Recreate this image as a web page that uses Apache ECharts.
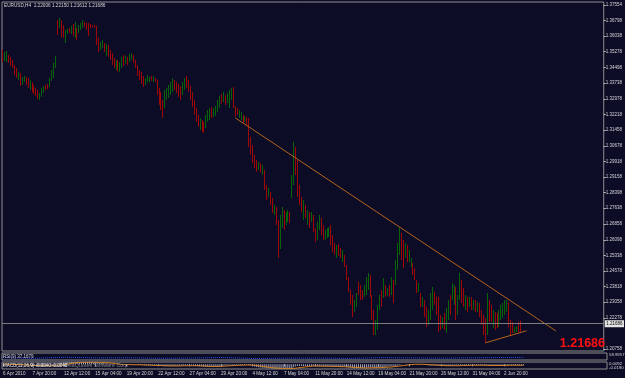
<!DOCTYPE html>
<html>
<head>
<meta charset="utf-8">
<script src="https://cdn.jsdelivr.net/npm/echarts@6/dist/echarts.min.js"></script>
<style>
html,body{margin:0;padding:0;background:#0c0c27;}
#chart{width:625px;height:378px;}
</style>
</head>
<body>
<div id="chart"></div>
<script>
// ---- EURUSD H4 bars (price) ----
const opens = [
1.3531,1.3487,1.3497,1.3507,1.3497,1.3482,1.3458,1.3443,1.3395,1.3419,
1.3370,1.3395,1.3399,1.3390,1.3346,1.3375,1.3360,1.3346,1.3336,1.3297,
1.3312,1.3336,1.3360,1.3365,1.3360,1.3390,1.3404,1.3453,1.3677,1.3648,
1.3677,1.3653,1.3575,1.3619,1.3639,1.3619,1.3658,1.3599,1.3639,1.3624,
1.3639,1.3648,1.3668,1.3663,1.3663,1.3658,1.3658,1.3653,1.3648,1.3580,
1.3541,1.3556,1.3565,1.3512,1.3556,1.3531,1.3517,1.3492,1.3443,1.3482,
1.3434,1.3453,1.3507,1.3468,1.3497,1.3477,1.3492,1.3507,1.3482,1.3458,
1.3434,1.3424,1.3404,1.3365,1.3385,1.3385,1.3404,1.3385,1.3395,1.3385,
1.3346,1.3326,1.3282,1.3258,1.3297,1.3307,1.3321,1.3336,1.3385,1.3375,
1.3365,1.3355,1.3321,1.3346,1.3404,1.3385,1.3355,1.3326,1.3282,1.3243,
1.3214,1.3150,1.3190,1.3180,1.3160,1.3190,1.3204,1.3253,1.3214,1.3224,
1.3238,1.3258,1.3316,1.3287,1.3312,1.3282,1.3263,1.3297,1.3351,1.3258,
1.3248,1.3214,1.3204,1.3214,1.3190,1.3204,1.3199,1.3102,1.3063,1.3014,
1.2994,1.2950,1.2985,1.2936,1.2946,1.2872,1.2819,1.2838,1.2809,1.2736,
1.2770,1.2701,1.2570,1.2682,1.2750,1.2682,1.2711,1.2741,1.2814,1.2877,
1.3058,1.2990,1.2858,1.2814,1.2716,1.2775,1.2692,1.2741,1.2706,1.2726,
1.2662,1.2614,1.2667,1.2711,1.2667,1.2614,1.2628,1.2633,1.2672,1.2623,
1.2584,1.2531,1.2584,1.2560,1.2511,1.2531,1.2482,1.2423,1.2360,1.2331,
1.2262,1.2301,1.2394,1.2379,1.2355,1.2331,1.2350,1.2375,1.2428,1.2336,
1.2257,1.2160,1.2194,1.2277,1.2355,1.2331,1.2384,1.2340,1.2379,1.2345,
1.2409,1.2394,1.2467,1.2560,1.2638,1.2604,1.2531,1.2580,1.2506,1.2487,
1.2492,1.2467,1.2409,1.2360,1.2345,1.2292,1.2311,1.2277,1.2199,1.2228,
1.2287,1.2355,1.2326,1.2326,1.2238,1.2184,1.2248,1.2170,1.2233,1.2331,
1.2326,1.2306,1.2375,1.2253,1.2316,1.2409,1.2365,1.2282,1.2326,1.2282,
1.2326,1.2272,1.2311,1.2267,1.2296,1.2262,1.2238,1.2218,1.2150,1.2311,
1.2287,1.2194,1.2253,1.2248,1.2194,1.2228,1.2238,1.2253,1.2277,1.2301,
1.2209,1.2204,1.2160,1.2165,1.2199,1.22006];
const closes = [
1.3487,1.3517,1.3521,1.3482,1.3463,1.3453,1.3419,1.3404,1.3424,1.3365,
1.3399,1.3404,1.3370,1.3355,1.3380,1.3336,1.3326,1.3316,1.3302,1.3321,
1.3346,1.3355,1.3346,1.3351,1.3395,1.3429,1.3463,1.3502,1.3619,1.3682,
1.3604,1.3604,1.3624,1.3634,1.3624,1.3648,1.3609,1.3663,1.3590,1.3653,
1.3663,1.3677,1.3653,1.3639,1.3609,1.3648,1.3653,1.3648,1.3565,1.3531,
1.3570,1.3580,1.3531,1.3560,1.3507,1.3492,1.3468,1.3453,1.3482,1.3434,
1.3473,1.3497,1.3463,1.3502,1.3468,1.3512,1.3517,1.3477,1.3453,1.3414,
1.3395,1.3375,1.3360,1.3395,1.3409,1.3399,1.3390,1.3404,1.3385,1.3321,
1.3273,1.3253,1.3209,1.3331,1.3346,1.3355,1.3370,1.3390,1.3346,1.3336,
1.3312,1.3297,1.3370,1.3390,1.3360,1.3336,1.3297,1.3263,1.3224,1.3190,
1.3165,1.3194,1.3141,1.3136,1.3209,1.3238,1.3248,1.3209,1.3248,1.3258,
1.3287,1.3302,1.3282,1.3326,1.3273,1.3321,1.3336,1.3346,1.3258,1.3214,
1.3224,1.3238,1.3229,1.3190,1.3209,1.3175,1.3072,1.3034,1.2994,1.2970,
1.2946,1.2985,1.2941,1.2970,1.2863,1.2809,1.2853,1.2785,1.2745,1.2770,
1.2692,1.2560,1.2716,1.2760,1.2672,1.2736,1.2750,1.2706,1.2911,1.3048,
1.2941,1.2838,1.2789,1.2760,1.2789,1.2726,1.2741,1.2677,1.2736,1.2658,
1.2609,1.2682,1.2721,1.2643,1.2614,1.2648,1.2662,1.2667,1.2594,1.2560,
1.2541,1.2570,1.2541,1.2526,1.2550,1.2487,1.2423,1.2370,1.2301,1.2243,
1.2306,1.2340,1.2350,1.2326,1.2326,1.2379,1.2414,1.2438,1.2340,1.2233,
1.2165,1.2209,1.2282,1.2331,1.2292,1.2409,1.2340,1.2370,1.2336,1.2418,
1.2316,1.2501,1.2584,1.2662,1.2531,1.2487,1.2584,1.2511,1.2550,1.2516,
1.2448,1.2423,1.2360,1.2394,1.2292,1.2326,1.2243,1.2194,1.2257,1.2340,
1.2370,1.2301,1.2253,1.2170,1.2184,1.2228,1.2175,1.2267,1.2306,1.2253,
1.2389,1.2379,1.2233,1.2331,1.2438,1.2311,1.2292,1.2331,1.2262,1.2321,
1.2272,1.2306,1.2262,1.2301,1.2243,1.2204,1.2160,1.2121,1.2326,1.2218,
1.2218,1.2262,1.2179,1.2189,1.2257,1.2287,1.2296,1.2306,1.2311,1.2194,
1.2160,1.2165,1.2179,1.2184,1.2170,1.21686];
const lows = [
1.3477,1.3482,1.3477,1.3473,1.3458,1.3448,1.3414,1.3399,1.3390,1.3360,
1.3365,1.3380,1.3365,1.3351,1.3341,1.3331,1.3321,1.3312,1.3297,1.3292,
1.3307,1.3326,1.3341,1.3346,1.3355,1.3385,1.3399,1.3448,1.3609,1.3643,
1.3599,1.3595,1.3570,1.3614,1.3619,1.3614,1.3604,1.3595,1.3585,1.3619,
1.3634,1.3643,1.3648,1.3634,1.3604,1.3643,1.3648,1.3643,1.3560,1.3526,
1.3536,1.3546,1.3526,1.3507,1.3502,1.3487,1.3463,1.3448,1.3438,1.3429,
1.3429,1.3448,1.3458,1.3468,1.3463,1.3477,1.3487,1.3473,1.3448,1.3409,
1.3390,1.3370,1.3355,1.3365,1.3380,1.3380,1.3385,1.3380,1.3380,1.3316,
1.3268,1.3243,1.3204,1.3253,1.3292,1.3302,1.3316,1.3331,1.3341,1.3326,
1.3307,1.3292,1.3316,1.3341,1.3351,1.3331,1.3292,1.3258,1.3219,1.3185,
1.3160,1.3146,1.3136,1.3131,1.3155,1.3185,1.3194,1.3204,1.3209,1.3214,
1.3233,1.3253,1.3273,1.3282,1.3268,1.3277,1.3253,1.3292,1.3253,1.3209,
1.3219,1.3204,1.3194,1.3180,1.3185,1.3170,1.3063,1.3024,1.2985,1.2960,
1.2941,1.2950,1.2936,1.2926,1.2853,1.2804,1.2819,1.2780,1.2741,1.2731,
1.2682,1.2521,1.2565,1.2667,1.2658,1.2682,1.2697,1.2692,1.2814,1.2877,
1.2926,1.2819,1.2780,1.2745,1.2706,1.2716,1.2682,1.2667,1.2697,1.2648,
1.2599,1.2609,1.2658,1.2633,1.2609,1.2609,1.2619,1.2623,1.2584,1.2550,
1.2536,1.2521,1.2531,1.2521,1.2501,1.2477,1.2414,1.2355,1.2292,1.2233,
1.2257,1.2282,1.2340,1.2316,1.2316,1.2331,1.2340,1.2365,1.2331,1.2218,
1.2145,1.2145,1.2170,1.2267,1.2282,1.2326,1.2331,1.2336,1.2331,1.2340,
1.2301,1.2389,1.2462,1.2536,1.2511,1.2472,1.2521,1.2501,1.2501,1.2477,
1.2438,1.2414,1.2350,1.2355,1.2282,1.2282,1.2233,1.2184,1.2194,1.2218,
1.2267,1.2292,1.2243,1.2160,1.2170,1.2179,1.2170,1.2155,1.2218,1.2243,
1.2316,1.2292,1.2218,1.2243,1.2316,1.2301,1.2282,1.2267,1.2257,1.2282,
1.2267,1.2267,1.2257,1.2257,1.2233,1.2194,1.2145,1.2106,1.2145,1.2209,
1.2209,1.2179,1.2170,1.2179,1.2184,1.2218,1.2228,1.2243,1.2257,1.2184,
1.2145,1.2155,1.2155,1.2160,1.2160,1.21612];
const highs = [
1.3536,1.3526,1.3531,1.3512,1.3502,1.3487,1.3463,1.3448,1.3429,1.3424,
1.3404,1.3409,1.3404,1.3399,1.3390,1.3380,1.3365,1.3351,1.3341,1.3326,
1.3351,1.3360,1.3365,1.3370,1.3399,1.3438,1.3473,1.3507,1.3682,1.3692,
1.3682,1.3658,1.3634,1.3639,1.3643,1.3653,1.3663,1.3673,1.3643,1.3658,
1.3668,1.3682,1.3673,1.3668,1.3668,1.3663,1.3658,1.3658,1.3653,1.3595,
1.3575,1.3585,1.3570,1.3565,1.3560,1.3536,1.3521,1.3497,1.3487,1.3487,
1.3477,1.3502,1.3512,1.3507,1.3502,1.3517,1.3521,1.3512,1.3487,1.3463,
1.3438,1.3429,1.3409,1.3399,1.3414,1.3404,1.3409,1.3409,1.3399,1.3390,
1.3351,1.3331,1.3292,1.3341,1.3351,1.3365,1.3380,1.3399,1.3390,1.3380,
1.3370,1.3360,1.3380,1.3399,1.3409,1.3390,1.3360,1.3331,1.3292,1.3253,
1.3219,1.3204,1.3194,1.3185,1.3219,1.3243,1.3253,1.3258,1.3253,1.3263,
1.3292,1.3312,1.3321,1.3331,1.3316,1.3326,1.3341,1.3351,1.3355,1.3263,
1.3253,1.3243,1.3233,1.3219,1.3214,1.3209,1.3204,1.3112,1.3072,1.3024,
1.2999,1.2990,1.2985,1.2975,1.2950,1.2877,1.2863,1.2843,1.2814,1.2780,
1.2770,1.2706,1.2731,1.2770,1.2755,1.2745,1.2755,1.2745,1.2926,1.3087,
1.3063,1.2999,1.2877,1.2819,1.2804,1.2780,1.2755,1.2745,1.2745,1.2731,
1.2667,1.2697,1.2731,1.2716,1.2682,1.2658,1.2667,1.2672,1.2682,1.2633,
1.2594,1.2584,1.2589,1.2570,1.2560,1.2536,1.2487,1.2428,1.2365,1.2340,
1.2316,1.2350,1.2404,1.2389,1.2365,1.2389,1.2428,1.2448,1.2438,1.2340,
1.2267,1.2218,1.2292,1.2340,1.2365,1.2423,1.2389,1.2375,1.2389,1.2428,
1.2414,1.2511,1.2594,1.2672,1.2643,1.2609,1.2594,1.2584,1.2560,1.2521,
1.2496,1.2472,1.2414,1.2399,1.2350,1.2331,1.2316,1.2282,1.2267,1.2350,
1.2379,1.2355,1.2331,1.2331,1.2243,1.2233,1.2253,1.2277,1.2316,1.2340,
1.2399,1.2389,1.2379,1.2340,1.2448,1.2414,1.2375,1.2340,1.2331,1.2331,
1.2331,1.2316,1.2316,1.2306,1.2301,1.2267,1.2243,1.2228,1.2350,1.2316,
1.2292,1.2267,1.2257,1.2253,1.2267,1.2292,1.2301,1.2316,1.2316,1.2306,
1.2218,1.2209,1.2184,1.2189,1.2209,1.22150];

// ---- MACD(12,26,9) main (histogram) and signal ----
const macdMain = [
0.001,0,0,-0.001,-0.001,-0.002,-0.002,-0.003,-0.003,-0.004,
-0.004,-0.004,-0.005,-0.005,-0.005,-0.006,-0.006,-0.006,-0.007,-0.007,
-0.007,-0.006,-0.006,-0.006,-0.005,-0.005,-0.004,-0.003,0.002,0.005,
0.006,0.007,0.007,0.008,0.008,0.009,0.009,0.009,0.009,0.009,
0.009,0.009,0.009,0.009,0.009,0.009,0.009,0.009,0.008,0.006,
0.005,0.005,0.004,0.004,0.003,0.002,0.001,0,-0.001,-0.002,
-0.002,-0.002,-0.002,-0.002,-0.002,-0.002,-0.002,-0.002,-0.002,-0.003,
-0.003,-0.004,-0.004,-0.004,-0.005,-0.005,-0.005,-0.005,-0.005,-0.005,
-0.006,-0.007,-0.008,-0.008,-0.008,-0.008,-0.007,-0.007,-0.006,-0.006,
-0.006,-0.006,-0.006,-0.005,-0.005,-0.005,-0.005,-0.006,-0.007,-0.008,
-0.009,-0.009,-0.010,-0.010,-0.010,-0.010,-0.009,-0.009,-0.009,-0.008,
-0.007,-0.006,-0.006,-0.005,-0.005,-0.004,-0.004,-0.003,-0.003,-0.003,
-0.003,-0.003,-0.003,-0.003,-0.003,-0.003,-0.005,-0.007,-0.009,-0.011,
-0.012,-0.013,-0.014,-0.014,-0.015,-0.016,-0.016,-0.017,-0.018,-0.018,
-0.018,-0.019,-0.019,-0.018,-0.018,-0.017,-0.017,-0.016,-0.012,-0.008,
-0.007,-0.007,-0.007,-0.007,-0.007,-0.007,-0.007,-0.008,-0.008,-0.008,
-0.009,-0.009,-0.008,-0.008,-0.009,-0.009,-0.009,-0.009,-0.009,-0.010,
-0.010,-0.011,-0.011,-0.011,-0.011,-0.012,-0.013,-0.014,-0.015,-0.016,
-0.016,-0.016,-0.015,-0.015,-0.015,-0.014,-0.013,-0.012,-0.012,-0.013,
-0.014,-0.014,-0.013,-0.012,-0.011,-0.010,-0.009,-0.008,-0.008,-0.007,
-0.007,-0.005,-0.003,-0.001,0,0.001,0.001,0.001,0.001,0.001,
0,0,-0.001,-0.001,-0.002,-0.003,-0.004,-0.005,-0.005,-0.005,
-0.005,-0.005,-0.005,-0.006,-0.006,-0.006,-0.007,-0.007,-0.006,-0.006,
-0.005,-0.004,-0.005,-0.005,-0.004,-0.004,-0.004,-0.004,-0.004,-0.004,
-0.004,-0.004,-0.004,-0.004,-0.004,-0.004,-0.005,-0.006,-0.005,-0.005,
-0.005,-0.005,-0.005,-0.005,-0.005,-0.004,-0.004,-0.004,-0.003,-0.003,
-0.004,-0.004,-0.004,-0.004,-0.004,-0.004];
const macdSignal = [
0.001,0.001,0.001,0,0,0,-0.001,-0.001,-0.001,-0.002,
-0.002,-0.003,-0.003,-0.004,-0.004,-0.004,-0.005,-0.005,-0.005,-0.006,
-0.006,-0.006,-0.006,-0.006,-0.006,-0.006,-0.006,-0.005,-0.005,-0.004,
-0.003,-0.002,-0.001,0,0.002,0.003,0.005,0.006,0.007,0.008,
0.008,0.009,0.009,0.009,0.009,0.009,0.009,0.009,0.009,0.009,
0.008,0.008,0.007,0.006,0.006,0.005,0.004,0.003,0.002,0.001,
0,0,-0.001,-0.001,-0.001,-0.002,-0.002,-0.002,-0.002,-0.002,
-0.002,-0.003,-0.003,-0.003,-0.003,-0.004,-0.004,-0.004,-0.005,-0.005,
-0.005,-0.005,-0.006,-0.006,-0.006,-0.007,-0.007,-0.007,-0.007,-0.007,
-0.007,-0.007,-0.006,-0.006,-0.006,-0.006,-0.006,-0.006,-0.006,-0.006,
-0.006,-0.007,-0.007,-0.008,-0.008,-0.009,-0.009,-0.009,-0.009,-0.009,
-0.009,-0.009,-0.008,-0.008,-0.007,-0.007,-0.006,-0.006,-0.005,-0.005,
-0.004,-0.004,-0.004,-0.003,-0.003,-0.003,-0.003,-0.004,-0.004,-0.005,
-0.006,-0.007,-0.008,-0.009,-0.011,-0.012,-0.013,-0.014,-0.015,-0.016,
-0.016,-0.017,-0.017,-0.018,-0.018,-0.018,-0.018,-0.018,-0.017,-0.016,
-0.015,-0.014,-0.013,-0.012,-0.011,-0.010,-0.009,-0.008,-0.007,-0.007,
-0.007,-0.008,-0.008,-0.008,-0.008,-0.008,-0.008,-0.009,-0.009,-0.009,
-0.009,-0.009,-0.010,-0.010,-0.010,-0.011,-0.011,-0.011,-0.012,-0.013,
-0.013,-0.014,-0.014,-0.015,-0.015,-0.015,-0.015,-0.014,-0.014,-0.014,
-0.014,-0.014,-0.014,-0.013,-0.013,-0.013,-0.012,-0.012,-0.011,-0.010,
-0.009,-0.008,-0.007,-0.006,-0.005,-0.004,-0.003,-0.002,-0.001,0,
0,0.001,0,0,0,-0.001,-0.001,-0.002,-0.002,-0.003,
-0.003,-0.004,-0.004,-0.005,-0.005,-0.005,-0.006,-0.006,-0.006,-0.006,
-0.006,-0.006,-0.006,-0.005,-0.005,-0.005,-0.005,-0.005,-0.004,-0.004,
-0.004,-0.004,-0.004,-0.004,-0.004,-0.004,-0.004,-0.004,-0.005,-0.005,
-0.005,-0.005,-0.005,-0.005,-0.005,-0.005,-0.005,-0.004,-0.004,-0.004,
-0.004,-0.004,-0.004,-0.004,-0.004,-0.004];

// ---- RSI(9), read at sparse bars ----
const rsiBars   = [0, 16, 32, 48, 64, 80, 96, 112, 128, 144, 160, 176, 192, 208, 224, 240, 256, 265];
const rsiValues = [34, 24, 40, 30, 32, 24, 28, 36, 20, 26, 28, 22, 34, 30, 27, 32, 36, 37.17];

// ---- drawn trend lines [barIndex, price] ----
const upperTrend = [[119, 1.3204], [283, 1.2165]];
const lowerTrend = [[247, 1.2107], [268, 1.2166]];

// ---- axis labels ----
const priceTicks = [1.37554,1.36798,1.36038,1.35278,1.34498,1.33738,1.32978,1.32218,1.31458,1.30678,
  1.29918,1.29158,1.28398,1.27638,1.26858,1.26098,1.25338,1.24578,1.23818,1.23058,1.22278,1.20758];
const timeLabels = ['6 Apr 2010','7 Apr 20:00','12 Apr 12:00','15 Apr 04:00','19 Apr 20:00','22 Apr 12:00',
  '27 Apr 04:00','29 Apr 20:00','4 May 12:00','7 May 04:00','11 May 20:00','14 May 12:00','19 May 04:00',
  '21 May 20:00','26 May 12:00','31 May 04:00','2 Jun 20:00'];
const timeLabelBars = [0,15,31,47,63,79,95,111,127,143,159,175,191,207,223,239,255];
const lastPrice = 1.21686;
const totalSlots = 308; // bar slots incl. right-hand chart shift

const categories = [];
for (let i = 0; i < totalSlots; i++) categories.push(i);
const labelMap = {};
timeLabelBars.forEach((b, k) => { labelMap[b] = timeLabels[k]; });
const candles = opens.map((o, i) => [o, closes[i], lows[i], highs[i]]);
const rsiPoints = rsiBars.map((b, k) => [b, rsiValues[k]]);

const FONT = '"Liberation Sans", Arial, sans-serif';
const UP = '#086408', DOWN = '#a00808';
const FRAME = '#8e8e8e';
const TXT = '#d6d6d6';

const hiddenX = (g) => ({
  gridIndex: g, type: 'category', data: categories, boundaryGap: true,
  axisLine: {show: false}, axisTick: {show: false}, axisLabel: {show: false}, splitLine: {show: false}
});

const chart = echarts.init(document.getElementById('chart'), null, {renderer: 'canvas'});
chart.setOption({
  backgroundColor: '#0c0c27',
  animation: false,
  grid: [
    {left: 2, top: 2, width: 605, height: 349, show: true, borderColor: FRAME, borderWidth: 1},
    {left: 2, top: 353, width: 605, height: 7, show: true, borderColor: FRAME, borderWidth: 1},
    {left: 2, top: 362, width: 605, height: 7, show: true, borderColor: FRAME, borderWidth: 1}
  ],
  xAxis: [
    hiddenX(0),
    hiddenX(1),
    {
      gridIndex: 2, type: 'category', data: categories, boundaryGap: true,
      axisLine: {show: false},
      axisTick: {show: true, length: 2, alignWithLabel: true,
        interval: (idx) => labelMap[idx] !== undefined, lineStyle: {color: '#bdbdbd', width: 1}},
      axisLabel: {show: true, interval: (idx) => labelMap[idx] !== undefined,
        formatter: (v, idx) => labelMap[idx] || '', align: 'left', margin: 2,
        fontSize: 4.6, color: TXT, fontFamily: FONT},
      splitLine: {show: false}
    }
  ],
  yAxis: [
    {
      gridIndex: 0, type: 'value', position: 'right', min: 1.2067, max: 1.3770,
      axisLine: {show: false},
      axisTick: {show: true, length: 2, customValues: priceTicks, lineStyle: {color: '#bdbdbd'}},
      axisLabel: {show: true, customValues: priceTicks, formatter: (v) => v.toFixed(5),
        fontSize: 4.5, color: TXT, margin: 2, fontFamily: FONT},
      splitLine: {show: false}
    },
    {gridIndex: 1, type: 'value', min: 0, max: 100, show: false},
    {gridIndex: 2, type: 'value', min: -0.0195, max: 0.0095, show: false}
  ],
  series: [
    {
      type: 'candlestick', xAxisIndex: 0, yAxisIndex: 0, data: candles, barWidth: 0.5,
      itemStyle: {color: UP, color0: DOWN, borderColor: UP, borderColor0: DOWN, borderWidth: 1},
      markLine: {
        silent: true, symbol: 'none', animation: false,
        lineStyle: {color: '#7d7d7d', type: 'solid', width: 1},
        label: {show: true, position: 'end', distance: 1, formatter: lastPrice.toFixed(5),
          backgroundColor: '#e4e4e4', color: '#000', fontSize: 4.5, padding: [1, 1.5], fontFamily: FONT},
        data: [{yAxis: lastPrice}]
      }
    },
    {type: 'line', xAxisIndex: 0, yAxisIndex: 0, data: upperTrend, symbol: 'none',
      lineStyle: {color: '#b5621b', width: 1}, z: 3},
    {type: 'line', xAxisIndex: 0, yAxisIndex: 0, data: lowerTrend, symbol: 'none',
      lineStyle: {color: '#b5621b', width: 1}, z: 3},
    {type: 'line', xAxisIndex: 1, yAxisIndex: 1, data: rsiPoints, symbol: 'none',
      lineStyle: {color: '#2d52e6', width: 1, type: 'dotted'}},
    {type: 'bar', xAxisIndex: 2, yAxisIndex: 2, data: macdMain, barWidth: 1,
      itemStyle: {color: '#a9a9b8'}},
    {type: 'line', xAxisIndex: 2, yAxisIndex: 2, data: macdSignal, symbol: 'none',
      lineStyle: {color: '#d2801e', width: 1}}
  ],
  graphic: [
    {type: 'text', left: 4, top: 3, z: 100,
      style: {text: 'EURUSD,H4  1.22006 1.22150 1.21612 1.21686', fill: TXT, font: '4.7px ' + FONT}},
    {type: 'text', right: 20, top: 337, z: 100,
      style: {text: '1.21686', fill: '#ff1010', font: 'bold 12.5px ' + FONT}},
    {type: 'text', left: 3, top: 354, z: 100,
      style: {text: 'RSI(9) 37.1679', fill: TXT, font: '4.5px ' + FONT}},
    {type: 'text', left: 609, top: 353, z: 100,
      style: {text: '58.9957', fill: TXT, font: '4.3px ' + FONT}},
    {type: 'text', left: 30, top: 363, z: 99,
      style: {text: '\u00a9 2001-2010 MetaQuotes Software Corp.', fill: '#8a8a8a', font: '5.4px ' + FONT}},
    {type: 'text', left: 3, top: 363, z: 100,
      style: {text: 'MACD(12,26,9) -0.0040 -0.0040', fill: '#f0f0f0', font: '4.5px ' + FONT}},
    {type: 'text', left: 609, top: 362, z: 100,
      style: {text: '0.0092', fill: TXT, font: '4.3px ' + FONT}},
    {type: 'text', left: 609, top: 366, z: 100,
      style: {text: '-0.0190', fill: TXT, font: '4.3px ' + FONT}}
  ]
});
</script>
</body>
</html>
